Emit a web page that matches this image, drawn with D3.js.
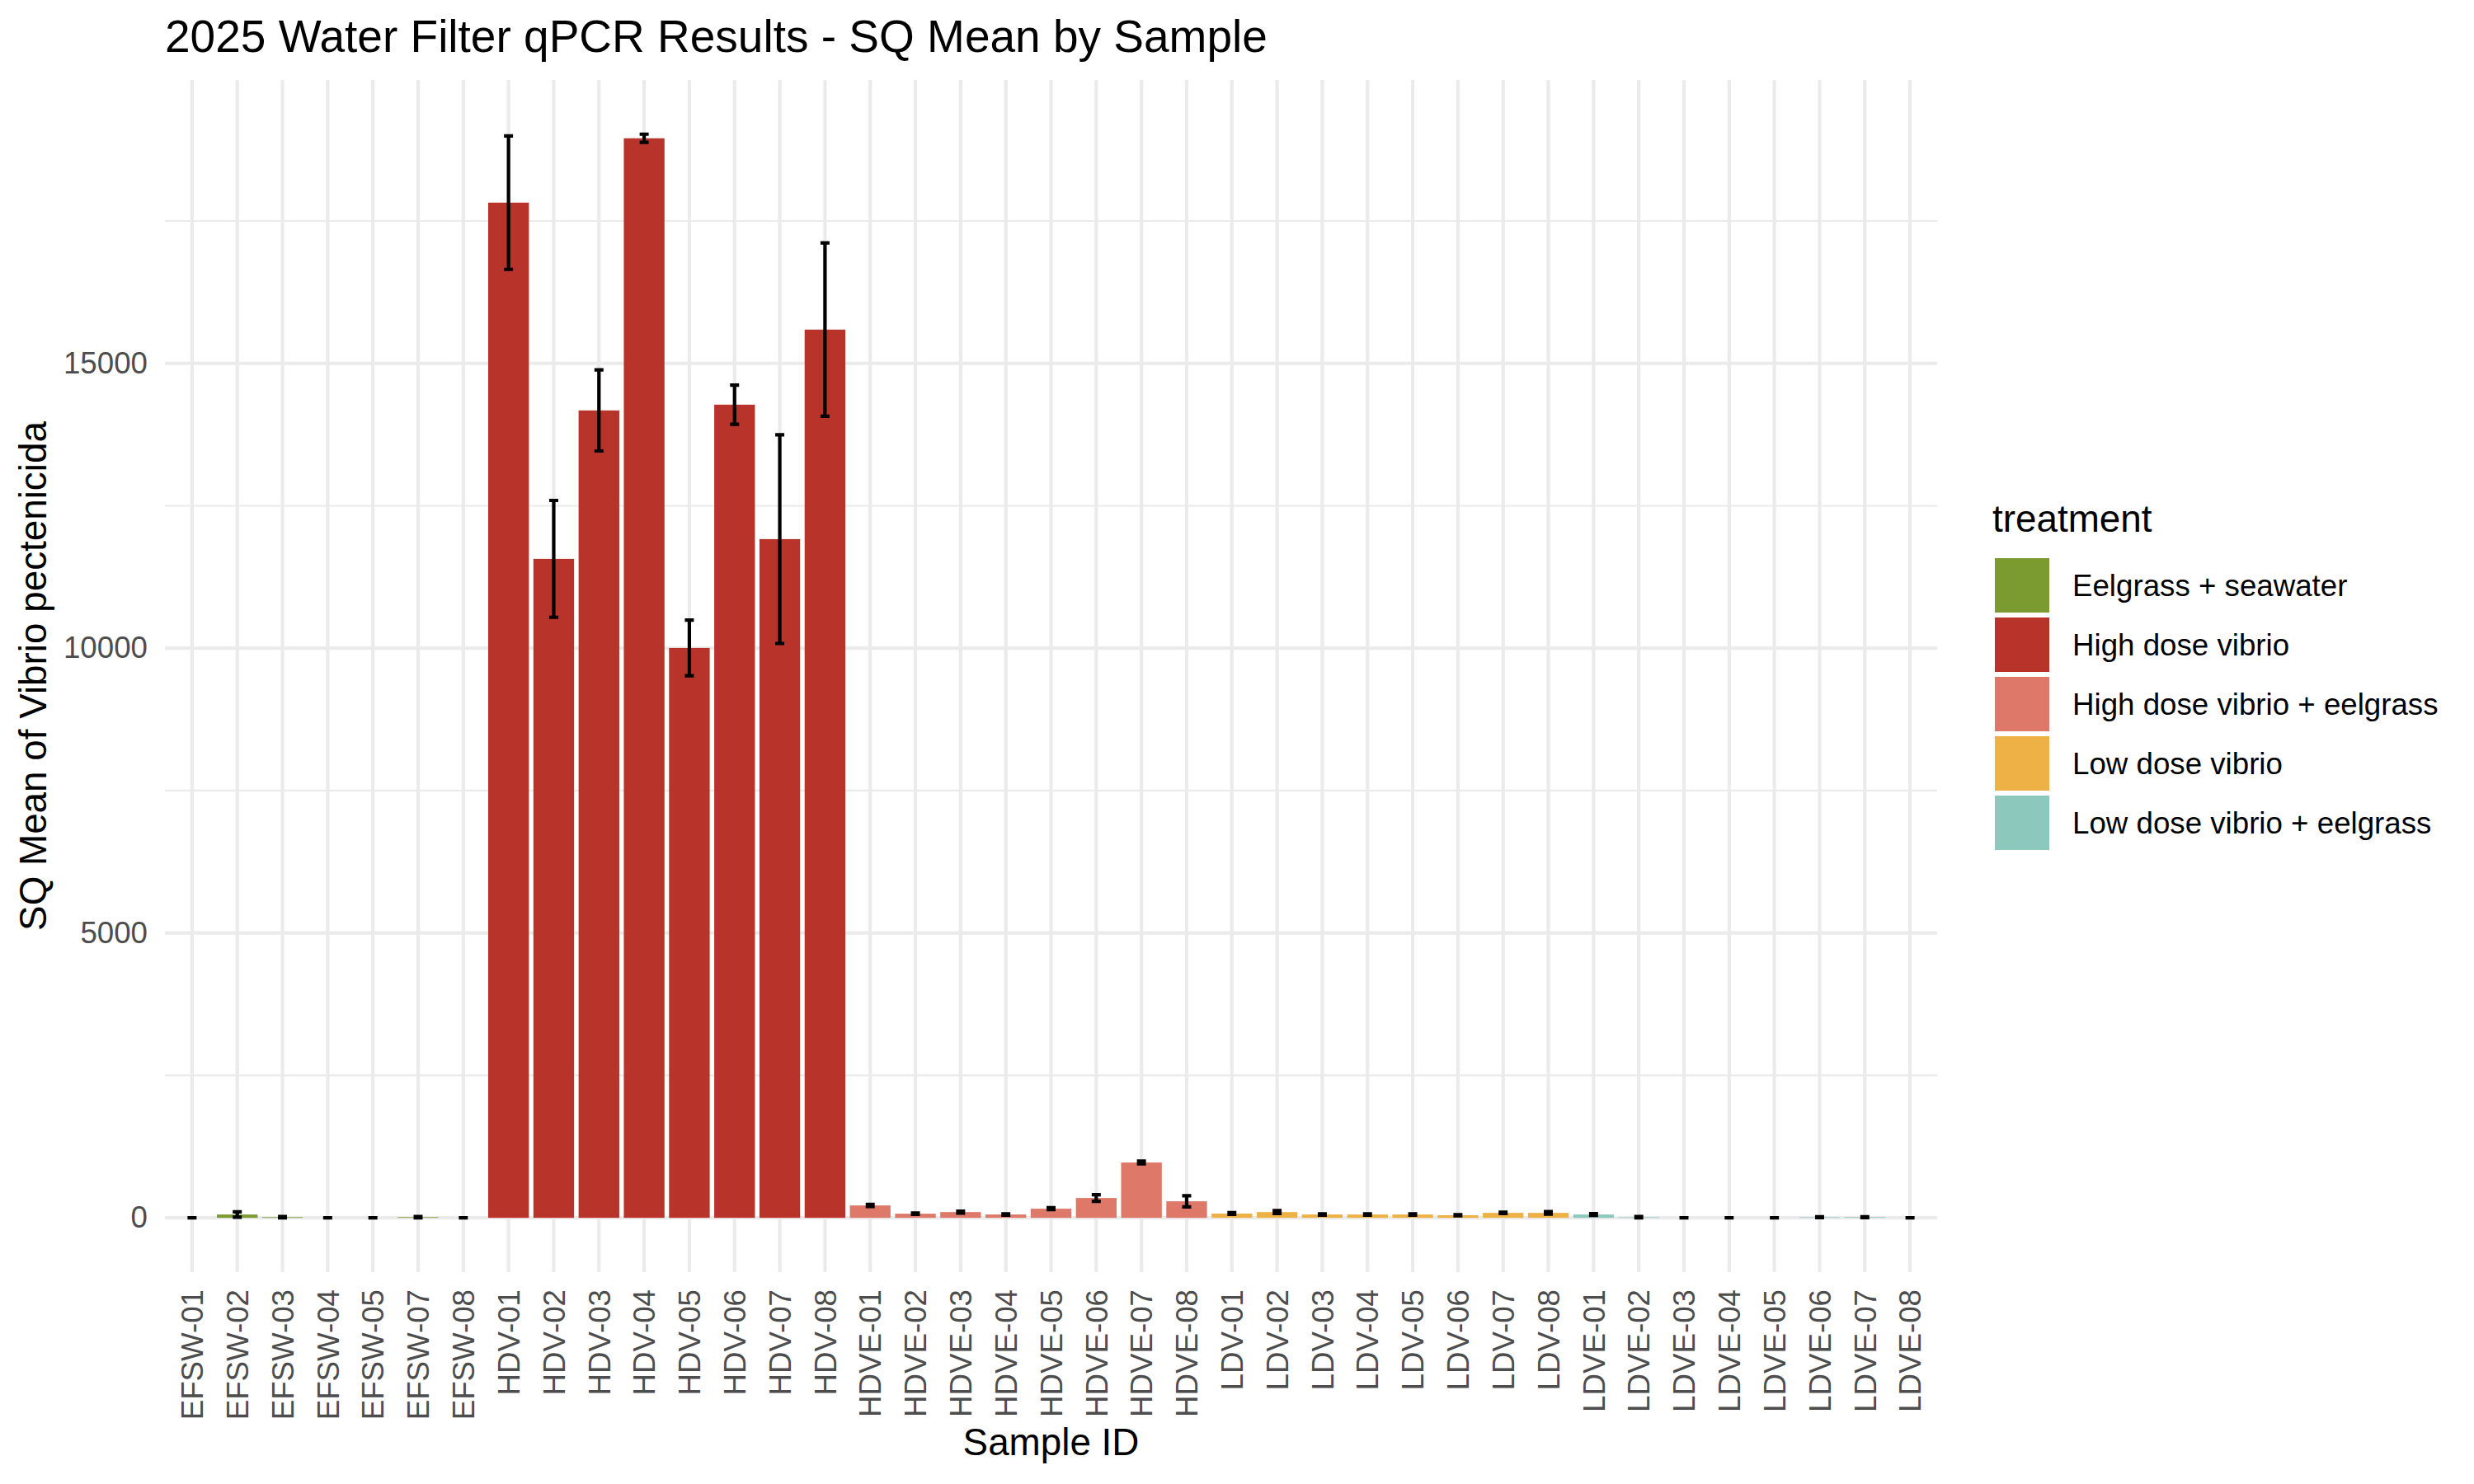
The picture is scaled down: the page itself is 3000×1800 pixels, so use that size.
<!DOCTYPE html>
<html>
<head>
<meta charset="utf-8">
<script src="https://cdn.jsdelivr.net/npm/d3@7"></script>
<style>
  html, body { margin: 0; padding: 0; background: #ffffff; }
  svg { display: block; }
  text { font-family: "Liberation Sans", Arial, Helvetica, sans-serif; }
</style>
</head>
<body>
<svg id="chart" width="3000" height="1800"></svg>
<script>
// ---------------- data ----------------
const sampleIds = [
  "EFSW-01","EFSW-02","EFSW-03","EFSW-04","EFSW-05","EFSW-07","EFSW-08",
  "HDV-01","HDV-02","HDV-03","HDV-04","HDV-05","HDV-06","HDV-07","HDV-08",
  "HDVE-01","HDVE-02","HDVE-03","HDVE-04","HDVE-05","HDVE-06","HDVE-07","HDVE-08",
  "LDV-01","LDV-02","LDV-03","LDV-04","LDV-05","LDV-06","LDV-07","LDV-08",
  "LDVE-01","LDVE-02","LDVE-03","LDVE-04","LDVE-05","LDVE-06","LDVE-07","LDVE-08"
];
const sampleTreatment = [
  "Eelgrass + seawater","Eelgrass + seawater","Eelgrass + seawater","Eelgrass + seawater","Eelgrass + seawater","Eelgrass + seawater","Eelgrass + seawater",
  "High dose vibrio","High dose vibrio","High dose vibrio","High dose vibrio","High dose vibrio","High dose vibrio","High dose vibrio","High dose vibrio",
  "High dose vibrio + eelgrass","High dose vibrio + eelgrass","High dose vibrio + eelgrass","High dose vibrio + eelgrass","High dose vibrio + eelgrass","High dose vibrio + eelgrass","High dose vibrio + eelgrass","High dose vibrio + eelgrass",
  "Low dose vibrio","Low dose vibrio","Low dose vibrio","Low dose vibrio","Low dose vibrio","Low dose vibrio","Low dose vibrio","Low dose vibrio",
  "Low dose vibrio + eelgrass","Low dose vibrio + eelgrass","Low dose vibrio + eelgrass","Low dose vibrio + eelgrass","Low dose vibrio + eelgrass","Low dose vibrio + eelgrass","Low dose vibrio + eelgrass","Low dose vibrio + eelgrass"
];
const sqMean = [
  0, 58, 12, 0, 0, 12, 0,
  17822, 11568, 14174, 18952, 10004, 14275, 11915, 15593,
  217, 72, 101, 58, 160, 348, 971, 290,
  75, 101, 58, 58, 58, 45, 87, 87,
  58, 10, 0, 0, 0, 10, 12, 0
];
const sqSd = [
  0, 48, 12, 0, 0, 12, 0,
  1172, 1026, 712, 72, 488, 343, 1832, 1522,
  20, 10, 17, 12, 17, 58, 24, 97,
  15, 25, 10, 12, 12, 10, 12, 22,
  15, 12, 0, 0, 0, 7, 8, 0
];
const treatments = [
  "Eelgrass + seawater",
  "High dose vibrio",
  "High dose vibrio + eelgrass",
  "Low dose vibrio",
  "Low dose vibrio + eelgrass"
];
const treatmentColors = ["#7B9B30", "#B8332A", "#DE7868", "#EEB145", "#8DC8BC"];
const yTicks = [0, 5000, 10000, 15000];
const yMinorTicks = [2500, 7500, 12500, 17500];

const titleText = "2025 Water Filter qPCR Results - SQ Mean by Sample";
const xTitle = "Sample ID";
const yTitle = "SQ Mean of Vibrio pectenicida";
const legendTitle = "treatment";

// ---------------- layout ----------------
const panel = { left: 200, right: 2349, top: 97, bottom: 1543 };
const svg = d3.select("#chart");

const rows = sampleIds.map((id, i) => ({
  id, treatment: sampleTreatment[i], mean: sqMean[i], sd: sqSd[i]
}));

const x = d3.scaleBand()
  .domain(sampleIds)
  .range([panel.left, panel.right])
  .paddingInner(0.1)
  .paddingOuter(0.15);
const step = x.step();

const lo = Math.min(0, d3.min(rows, d => d.mean - d.sd));
const hi = d3.max(rows, d => d.mean + d.sd);
const span = hi - lo;
const y = d3.scaleLinear()
  .domain([lo - 0.05 * span, hi + 0.05 * span])
  .range([panel.bottom, panel.top]);

const color = d3.scaleOrdinal().domain(treatments).range(treatmentColors);

// ---------------- grid ----------------
const grid = svg.append("g");
grid.selectAll("line.minor").data(yMinorTicks).join("line")
  .attr("x1", panel.left).attr("x2", panel.right)
  .attr("y1", d => y(d)).attr("y2", d => y(d))
  .attr("stroke", "#EBEBEB").attr("stroke-width", 2.2);
grid.selectAll("line.majory").data(yTicks).join("line")
  .attr("x1", panel.left).attr("x2", panel.right)
  .attr("y1", d => y(d)).attr("y2", d => y(d))
  .attr("stroke", "#EBEBEB").attr("stroke-width", 4.2);
grid.selectAll("line.majorx").data(sampleIds).join("line")
  .attr("x1", d => x(d) + x.bandwidth() / 2).attr("x2", d => x(d) + x.bandwidth() / 2)
  .attr("y1", panel.top).attr("y2", panel.bottom)
  .attr("stroke", "#EBEBEB").attr("stroke-width", 4.2);

// ---------------- bars ----------------
svg.append("g").selectAll("rect").data(rows).join("rect")
  .attr("x", d => x(d.id))
  .attr("width", x.bandwidth())
  .attr("y", d => Math.min(y(d.mean), y(0)))
  .attr("height", d => Math.abs(y(0) - y(d.mean)))
  .attr("fill", d => color(d.treatment));

// ---------------- error bars ----------------
const capW = 0.2 * step;
const eb = svg.append("g").attr("stroke", "#000").attr("stroke-width", 4.2).attr("fill", "none");
rows.forEach(d => {
  const cx = x(d.id) + x.bandwidth() / 2;
  const y1 = y(d.mean + d.sd), y0 = y(d.mean - d.sd);
  eb.append("path")
    .attr("d", `M${cx - capW / 2},${y1}H${cx + capW / 2}M${cx},${y1}V${y0}M${cx - capW / 2},${y0}H${cx + capW / 2}`)
    .attr("stroke-linecap", "butt");
});

// ---------------- axes ----------------
const yAxis = svg.append("g")
  .attr("transform", `translate(${panel.left},0)`)
  .call(d3.axisLeft(y).tickValues(yTicks).tickFormat(d3.format("d")).tickSize(0).tickPadding(21));
yAxis.select(".domain").remove();
yAxis.selectAll("text")
  .attr("font-size", 36.7)
  .attr("fill", "#4D4D4D")
  .style("font-family", "'Liberation Sans', Arial, sans-serif");

const xAxis = svg.append("g")
  .attr("transform", `translate(0,${panel.bottom})`)
  .call(d3.axisBottom(x).tickSize(0).tickPadding(0));
xAxis.select(".domain").remove();
xAxis.selectAll("text")
  .attr("y", 0).attr("x", 0).attr("dy", "0.36em")
  .attr("transform", "translate(0,21) rotate(-90)")
  .attr("text-anchor", "end")
  .attr("font-size", 36.7)
  .attr("fill", "#4D4D4D")
  .style("font-family", "'Liberation Sans', Arial, sans-serif");

// ---------------- titles ----------------
svg.append("text")
  .attr("x", panel.left).attr("y", 63)
  .attr("font-size", 55)
  .attr("fill", "#000")
  .text(titleText);

svg.append("text")
  .attr("x", (panel.left + panel.right) / 2).attr("y", 1765)
  .attr("text-anchor", "middle")
  .attr("font-size", 45.8)
  .attr("fill", "#000")
  .text(xTitle);

svg.append("text")
  .attr("transform", `translate(56,${(panel.top + panel.bottom) / 2}) rotate(-90)`)
  .attr("text-anchor", "middle")
  .attr("font-size", 45.8)
  .attr("fill", "#000")
  .text(yTitle);

// ---------------- legend ----------------
const legend = svg.append("g").attr("transform", "translate(2416,0)");
legend.append("text")
  .attr("x", 0).attr("y", 645)
  .attr("font-size", 45.8)
  .attr("fill", "#000")
  .text(legendTitle);
const keyTop = 674, keyPitch = 72;
const items = legend.selectAll("g.item").data(treatments).join("g")
  .attr("transform", (d, i) => `translate(0,${keyTop + i * keyPitch})`);
items.append("rect")
  .attr("x", 3).attr("y", 3)
  .attr("width", 66).attr("height", 66)
  .attr("fill", d => color(d));
items.append("text")
  .attr("x", 97).attr("y", 36).attr("dy", "0.35em")
  .attr("font-size", 36.7)
  .attr("fill", "#000")
  .text(d => d);
</script>
</body>
</html>
